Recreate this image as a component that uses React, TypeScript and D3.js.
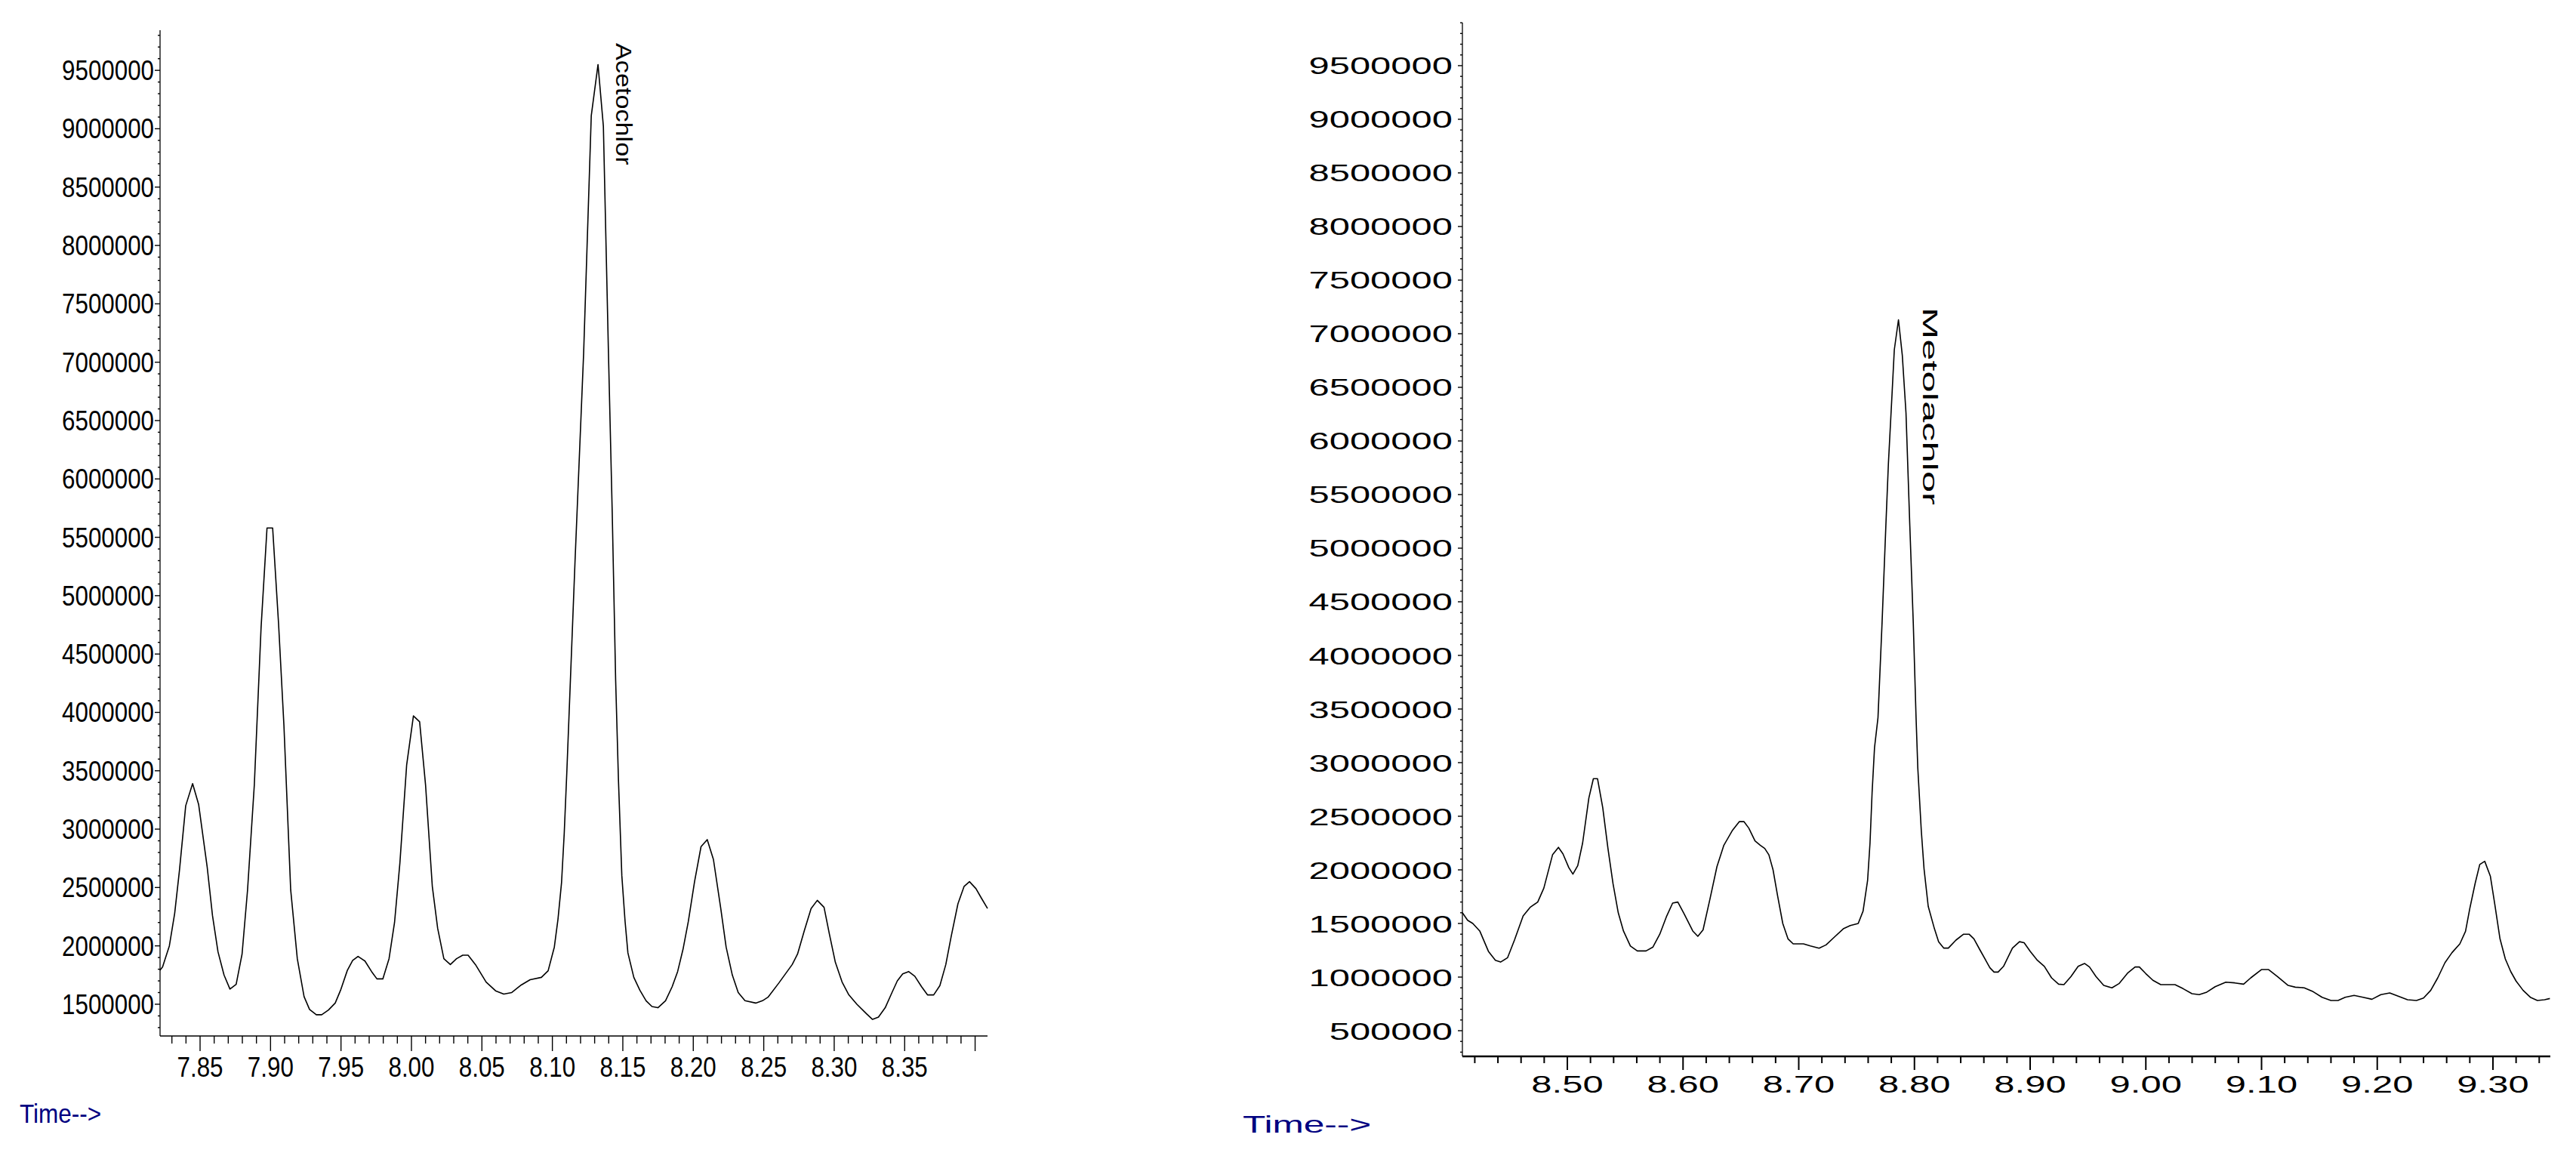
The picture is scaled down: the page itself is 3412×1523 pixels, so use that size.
import React from 'react';
import * as d3 from 'd3';

// Acetochlor window (left trace), time in min, abundance in counts
const acetoTime = [
  7.8215, 7.8234, 7.8282, 7.832, 7.8354, 7.8398, 7.8447, 7.849, 7.855, 7.8588,
  7.8627, 7.867, 7.8712, 7.8756, 7.8798, 7.8837, 7.8885, 7.8933, 7.8975, 7.9015,
  7.9057, 7.9095, 7.9143, 7.919, 7.9238, 7.9277, 7.9325, 7.9363, 7.9411, 7.9459,
  7.9497, 7.9545, 7.9583, 7.9621, 7.967, 7.9717, 7.9755, 7.9797, 7.9841, 7.988,
  7.9918, 7.9966, 8.0014, 8.0058, 8.01, 8.0148, 8.0186, 8.023, 8.0276, 8.032,
  8.0364, 8.0402, 8.0454, 8.053, 8.0597, 8.0655, 8.0712, 8.0779, 8.0842, 8.0922,
  8.097, 8.1014, 8.104, 8.1065, 8.1084, 8.1103, 8.1132, 8.1161, 8.1222, 8.1276,
  8.1324, 8.1362, 8.1398, 8.1425, 8.1449, 8.1469, 8.1493, 8.1516, 8.1536, 8.1578,
  8.1621, 8.1665, 8.1707, 8.1749, 8.1803, 8.185, 8.1889, 8.1927, 8.1965, 8.2009,
  8.2055, 8.2099, 8.2143, 8.2195, 8.2233, 8.2277, 8.2319, 8.2367, 8.2443, 8.2491,
  8.253, 8.2606, 8.2702, 8.274, 8.2788, 8.2836, 8.288, 8.2928, 8.2966, 8.3008,
  8.3056, 8.3104, 8.3161, 8.3228, 8.3272, 8.3314, 8.3362, 8.341, 8.3448, 8.3486,
  8.3528, 8.3572, 8.362, 8.3662, 8.3706, 8.375, 8.3792, 8.383, 8.3878, 8.3922,
  8.396, 8.4006, 8.4044, 8.4088,
];
const acetoAbund = [
  1790000, 1820000, 2000000, 2280000, 2650000, 3200000, 3390000, 3210000, 2680000, 2260000,
  1950000, 1750000, 1630000, 1670000, 1930000, 2480000, 3380000, 4730000, 5580000, 5580000,
  4760000, 3890000, 2480000, 1890000, 1565000, 1455000, 1410000, 1410000, 1450000, 1510000,
  1620000, 1790000, 1875000, 1910000, 1870000, 1780000, 1717000, 1717000, 1890000, 2200000,
  2710000, 3550000, 3970000, 3920000, 3380000, 2510000, 2150000, 1890000, 1840000, 1890000,
  1920000, 1920000, 1840000, 1690000, 1615000, 1587000, 1600000, 1665000, 1710000, 1730000,
  1787000, 1990000, 2230000, 2540000, 2960000, 3500000, 4400000, 5300000, 7080000, 9110000,
  9550000, 9020000, 7080000, 5700000, 4280000, 3420000, 2600000, 2210000, 1940000, 1730000,
  1620000, 1530000, 1480000, 1470000, 1530000, 1650000, 1780000, 1970000, 2210000, 2550000,
  2850000, 2910000, 2740000, 2320000, 1990000, 1750000, 1600000, 1530000, 1510000, 1530000,
  1560000, 1680000, 1840000, 1930000, 2130000, 2320000, 2390000, 2330000, 2100000, 1860000,
  1690000, 1580000, 1500000, 1420000, 1370000, 1390000, 1470000, 1600000, 1700000, 1760000,
  1780000, 1740000, 1650000, 1580000, 1580000, 1660000, 1840000, 2080000, 2360000, 2510000,
  2550000, 2490000, 2410000, 2320000,
];

// Metolachlor window (right trace)
const metoTime = [
  8.4093, 8.4138, 8.4183, 8.4243, 8.4318, 8.4378, 8.4423, 8.4483, 8.4543, 8.4618,
  8.4678, 8.4744, 8.4797, 8.4872, 8.4923, 8.4962, 8.5013, 8.5048, 8.509, 8.5132,
  8.5186, 8.5225, 8.5261, 8.5306, 8.5351, 8.5395, 8.544, 8.5485, 8.5545, 8.5605,
  8.568, 8.574, 8.5799, 8.5859, 8.591, 8.5955, 8.6009, 8.6084, 8.6128, 8.6173,
  8.6233, 8.6293, 8.6353, 8.6428, 8.6487, 8.6526, 8.6568, 8.6622, 8.6667, 8.6706,
  8.6742, 8.6778, 8.6817, 8.6862, 8.6907, 8.6952, 8.7041, 8.7101, 8.7176, 8.7236,
  8.731, 8.7385, 8.7445, 8.7514, 8.7556, 8.7595, 8.7616, 8.7634, 8.7655, 8.7685,
  8.772, 8.7753, 8.7775, 8.7807, 8.7826, 8.7862, 8.7895, 8.7927, 8.796, 8.799,
  8.8014, 8.8029, 8.8059, 8.8083, 8.8119, 8.8173, 8.8209, 8.8254, 8.8293, 8.8359,
  8.8425, 8.8472, 8.8514, 8.8568, 8.8622, 8.8652, 8.8688, 8.8723, 8.877, 8.8847,
  8.8908, 8.8948, 8.9001, 8.9062, 8.9123, 8.9185, 8.9246, 8.9292, 8.9353, 8.9415,
  8.947, 8.9513, 8.9569, 8.9636, 8.9707, 8.9768, 8.9845, 8.9907, 8.9944, 8.9999,
  9.0061, 9.0129, 9.0184, 9.0252, 9.0322, 9.0399, 9.0461, 9.0522, 9.0599, 9.0691,
  9.0768, 9.0845, 9.0907, 9.0999, 9.1061, 9.1138, 9.123, 9.1292, 9.1369, 9.1446,
  9.1523, 9.16, 9.1661, 9.1723, 9.18, 9.1877, 9.1954, 9.2031, 9.2108, 9.2185,
  9.2262, 9.2339, 9.24, 9.2462, 9.2523, 9.2585, 9.2646, 9.2714, 9.2763, 9.28,
  9.2846, 9.2886, 9.2929, 9.2978, 9.3015, 9.3061, 9.3107, 9.3154, 9.32, 9.3261,
  9.3323, 9.3384, 9.3446, 9.3492,
];
const metoAbund = [
  1600000, 1530000, 1500000, 1430000, 1240000, 1157000, 1140000, 1180000, 1345000, 1570000,
  1650000, 1700000, 1830000, 2140000, 2210000, 2150000, 2020000, 1960000, 2040000, 2250000,
  2670000, 2850000, 2850000, 2580000, 2200000, 1870000, 1600000, 1430000, 1290000, 1244000,
  1244000, 1280000, 1400000, 1570000, 1690000, 1700000, 1590000, 1430000, 1380000, 1440000,
  1730000, 2030000, 2230000, 2370000, 2450000, 2450000, 2390000, 2270000, 2230000, 2200000,
  2140000, 2000000, 1760000, 1500000, 1357000, 1310000, 1310000, 1290000, 1270000, 1300000,
  1375000, 1450000, 1480000, 1500000, 1615000, 1900000, 2250000, 2720000, 3140000, 3420000,
  4300000, 5210000, 5790000, 6450000, 6850000, 7130000, 6800000, 6260000, 5210000, 4300000,
  3420000, 2950000, 2370000, 2010000, 1660000, 1450000, 1330000, 1270000, 1270000, 1345000,
  1400000, 1400000, 1357000, 1250000, 1146000, 1087000, 1047000, 1047000, 1100000, 1270000,
  1330000, 1320000, 1240000, 1157000, 1100000, 993000, 934000, 930000, 1005000, 1100000,
  1127000, 1094000, 1005000, 922000, 900000, 939000, 1040000, 1094000, 1094000, 1033000,
  970000, 930000, 930000, 930000, 892000, 845000, 836000, 857000, 910000, 953000,
  946000, 934000, 993000, 1070000, 1070000, 1005000, 922000, 906000, 900000, 864000,
  812000, 782000, 782000, 812000, 829000, 812000, 793000, 836000, 852000, 820000,
  789000, 782000, 805000, 876000, 993000, 1134000, 1228000, 1310000, 1427000, 1640000,
  1873000, 2050000, 2080000, 1940000, 1685000, 1357000, 1169000, 1051000, 963000, 876000,
  812000, 782000, 789000, 800000,
];

const FONT = '"Liberation Sans", Arial, sans-serif';
const NAVY = '#000080';

// each panel keeps its own (slightly odd) text stretch, as in the printout
const panels = [
  {
    key: 'aceto',
    time: acetoTime,
    abund: acetoAbund,
    xDomain: [7.8216, 8.4088], xRange: [212, 1308],
    yDomain: [1228000, 9844000], yRange: [1372, 40],
    xMinor: 0.01, xMajor: 0.05, xFirst: 7.83, xLabelLast: 8.35,
    yMajorFrom: 1500000, yMajorTo: 9500000,
    axisW: 1.3, xAxisW: 1.3, tickW: 1.4, majorLen: 20, minorLen: 10, yMajorLen: 7, yMinorLen: 3,
    fontSize: 36, sx: 0.87, labelGap: 8, xLabelBase: 1426,
    name: 'Acetochlor', nameAt: [816, 57], nameSize: 29, nameSx: 1.18,
    timeAt: [26, 1487], timeSize: 35, timeSx: 0.9,
  },
  {
    key: 'meto',
    time: metoTime,
    abund: metoAbund,
    xDomain: [8.4093, 9.3496], xRange: [1937, 3378],
    yDomain: [260600, 9901000], yRange: [1399, 30],
    xMinor: 0.02, xMajor: 0.1, xFirst: 8.42, xLabelLast: 9.3,
    yMajorFrom: 500000, yMajorTo: 9500000,
    axisW: 1.3, xAxisW: 2.5, tickW: 2, majorLen: 18, minorLen: 9, yMajorLen: 6, yMinorLen: 3,
    fontSize: 32, sx: 1.53, labelGap: 13, xLabelBase: 1447,
    name: 'Metolachlor', nameAt: [2547, 407], nameSize: 28, nameSx: 1.81,
    timeAt: [1646, 1500], timeSize: 32, timeSx: 1.55,
  },
];

const Chromatogram = ({ p }) => {
  const x = d3.scaleLinear().domain(p.xDomain).range(p.xRange);
  const y = d3.scaleLinear().domain(p.yDomain).range(p.yRange);

  const pts = p.time.map((t, i) => [t, p.abund[i]]);
  const line = d3.line().x(d => x(d[0])).y(d => y(d[1]))(pts);

  // x ticks: minor every xMinor, major every xMajor
  const per = Math.round(p.xMajor / p.xMinor);
  const xTicks = [];
  for (let i = 0; ; i++) {
    const t = +(p.xFirst + i * p.xMinor).toFixed(3);
    if (t > p.xDomain[1]) break;
    xTicks.push({ t, major: Math.round(t / p.xMinor) % per === 0 });
  }

  // y ticks every 100000, labelled every 500000
  const yTicks = [];
  const lo = Math.ceil(p.yDomain[0] / 100000), hi = Math.floor(p.yDomain[1] / 100000);
  for (let k = lo; k <= hi; k++) {
    const v = k * 100000;
    yTicks.push({ v, major: k % 5 === 0 && v >= p.yMajorFrom && v <= p.yMajorTo });
  }

  const [x0, x1] = p.xRange;
  const [yb, yt] = p.yRange;

  return (
    <g fontFamily={FONT}>
      <path d={line} fill="none" stroke="#000" strokeWidth={1.6} strokeLinejoin="round" />

      {/* axes */}
      <line x1={x0} x2={x0} y1={yt} y2={yb} stroke="#000" strokeWidth={p.axisW} />
      <line x1={x0} x2={x1} y1={yb} y2={yb} stroke="#000" strokeWidth={p.xAxisW} />

      {xTicks.map(d => (
        <line key={'xt' + d.t} x1={x(d.t)} x2={x(d.t)} y1={yb}
          y2={yb + (d.major ? p.majorLen : p.minorLen)} stroke="#000" strokeWidth={p.tickW} />
      ))}
      {xTicks.filter(d => d.major && d.t <= p.xLabelLast + 1e-6).map(d => (
        <text key={'xl' + d.t} transform={`translate(${x(d.t)},${p.xLabelBase}) scale(${p.sx},1)`}
          textAnchor="middle" fontSize={p.fontSize} fill="#000">
          {d.t.toFixed(2)}
        </text>
      ))}

      {yTicks.map(d => (
        <line key={'yt' + d.v} x1={x0 - (d.major ? p.yMajorLen : p.yMinorLen)} x2={x0}
          y1={y(d.v)} y2={y(d.v)} stroke="#000" strokeWidth={1.4} />
      ))}
      {yTicks.filter(d => d.major).map(d => (
        <text key={'yl' + d.v} transform={`translate(${x0 - p.labelGap},${y(d.v)}) scale(${p.sx},1)`}
          textAnchor="end" dy="0.36em" fontSize={p.fontSize} fill="#000">
          {d.v}
        </text>
      ))}

      {/* compound name, rotated like the data system prints it */}
      <text transform={`translate(${p.nameAt[0]},${p.nameAt[1]}) rotate(90) scale(${p.nameSx},1)`}
        fontSize={p.nameSize} fill="#000">
        {p.name}
      </text>

      <text transform={`translate(${p.timeAt[0]},${p.timeAt[1]}) scale(${p.timeSx},1)`}
        fontSize={p.timeSize} fill={NAVY}>
        Time--&gt;
      </text>
    </g>
  );
};

export default function App() {
  return (
    <svg width={3412} height={1523}
      style={{ position: 'absolute', left: 0, top: 0, background: '#fff' }}>
      <rect width={3412} height={1523} fill="#fff" />
      {panels.map(p => <Chromatogram key={p.key} p={p} />)}
    </svg>
  );
}
